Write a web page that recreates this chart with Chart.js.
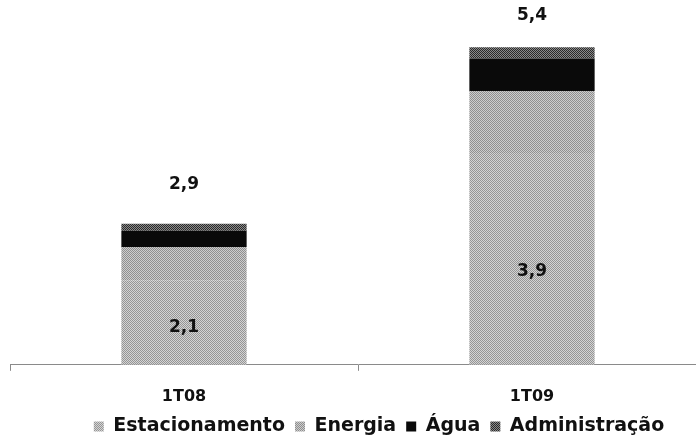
<!DOCTYPE html>
<html>
<head>
<meta charset="utf-8">
<script src="https://cdn.jsdelivr.net/npm/chart.js@4/dist/chart.umd.min.js"></script>
<style>
  html, body { margin: 0; padding: 0; background: #fff; overflow: hidden; }
</style>
</head>
<body>
<canvas id="c" width="706" height="438"></canvas>
<script>
const quarters = ['1T08', '1T09']
const estacionamento = [2.1, 3.9]
const energia = [0.47, 0.88]
const agua = [0.23, 0.46]
const administracao = [0.1, 0.16]
const totals = ['2,9', '5,4']
const inner = ['2,1', '3,9']

const FONT = '"DejaVu Sans", sans-serif'

// small dithered tiles so the bars look like the scanned hatching
const tile = (a, b) => {
    const t = document.createElement('canvas')
    t.width = 2; t.height = 2
    const g = t.getContext('2d')
    g.fillStyle = a; g.fillRect(0, 0, 2, 2)
    g.fillStyle = b; g.fillRect(0, 0, 1, 1); g.fillRect(1, 1, 1, 1)
    return g.createPattern(t, 'repeat')
}
const ctx = document.getElementById('c').getContext('2d')
const colEst = tile('#d4d4d4', '#959595')
const colEne = tile('#cdcdcd', '#8f8f8f')
const colAdm = tile('#8a8a8a', '#2a2a2a')

const labels = {
    id: 'labels',
    afterDatasetsDraw(chart) {
        const c = chart.ctx
        const bottom = chart.chartArea.bottom
        c.save()
        c.fillStyle = '#111'
        c.textAlign = 'center'
        c.textBaseline = 'middle'
        c.font = 'bold 17px ' + FONT
        const base = chart.getDatasetMeta(0).data
        base.forEach((bar, i) => {
            c.fillText(inner[i], bar.x, bar.y + (bottom - bar.y) * 0.56)
        })
        const top = chart.getDatasetMeta(3).data
        top.forEach((bar, i) => {
            c.fillText(totals[i], bar.x, bar.y - (i ? 32 : 39))
        })
        c.restore()
    }
}

// pin the legend box height, then nudge it like the original layout
const legendBox = {
    id: 'legendBox',
    beforeLayout(chart) {
        const lg = chart.legend
        if (lg && !lg._pinned) {
            const fit = lg.fit.bind(lg)
            lg.fit = function () { fit(); this.height = 16 }
            lg._pinned = true
        }
    },
    afterLayout(chart) {
        const lg = chart.legend
        lg.left += 21; lg.right += 21
        lg.top -= 15
        lg.height = lg.bottom - lg.top
    }
}

new Chart(ctx, {
    type: 'bar',
    data: {
        labels: quarters,
        datasets: [
            { label: 'Estacionamento', data: estacionamento, backgroundColor: colEst },
            { label: 'Energia', data: energia, backgroundColor: colEne },
            { label: 'Água', data: agua, backgroundColor: '#0a0a0a' },
            { label: 'Administração', data: administracao, backgroundColor: colAdm }
        ]
    },
    options: {
        responsive: false,
        animation: false,
        categoryPercentage: 0.36,
        barPercentage: 1,
        layout: { padding: { left: 10, right: 0, top: 0, bottom: 0 } },
        scales: {
            x: {
                stacked: true,
                border: { display: true, color: '#8a8a8a', dash: [1, 1] },
                grid: { drawOnChartArea: false, drawTicks: true, tickLength: 6, color: '#8a8a8a' },
                ticks: { color: '#111', padding: 16, font: { family: FONT, size: 16, weight: 'bold' } }
            },
            y: { stacked: true, display: false, min: 0.9, max: 6.07 }
        },
        plugins: {
            legend: {
                position: 'bottom',
                labels: {
                    color: '#111',
                    boxWidth: 10,
                    boxHeight: 10,
                    padding: 10,
                    font: { family: FONT, size: 19, weight: 'bold' }
                }
            },
            tooltip: { enabled: false }
        }
    },
    plugins: [labels, legendBox]
})
</script>
</body>
</html>
